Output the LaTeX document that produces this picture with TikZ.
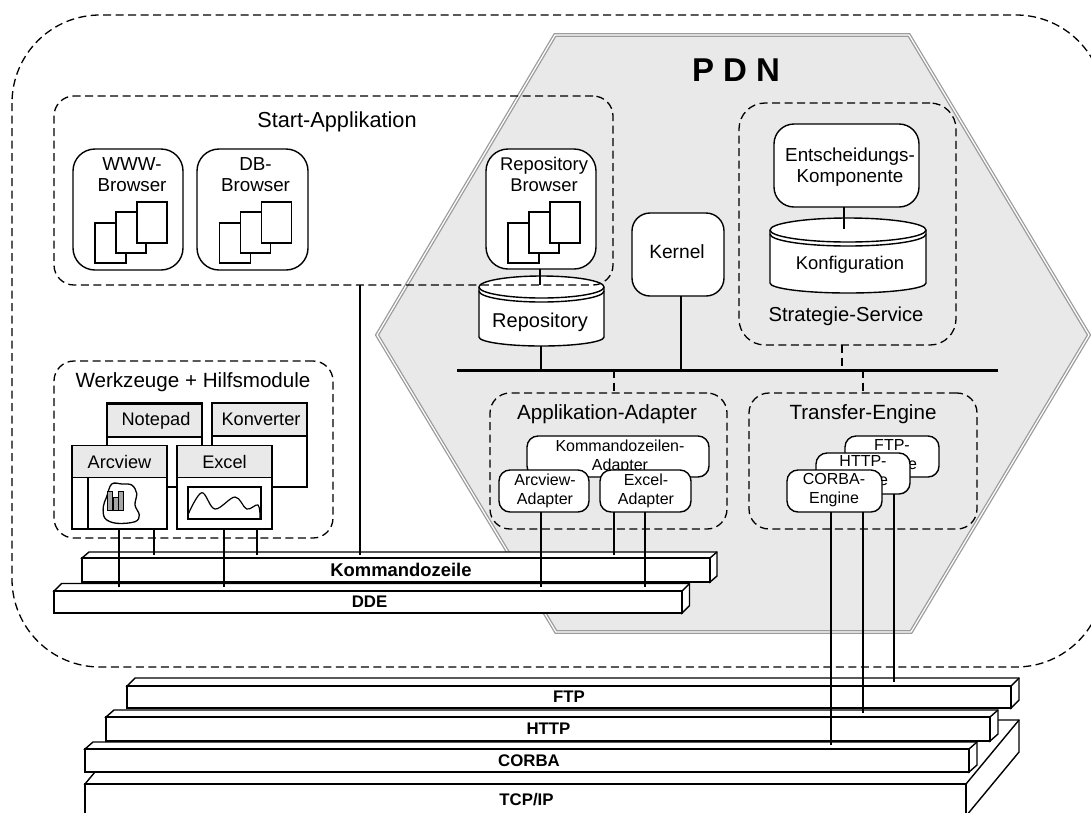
\documentclass[tikz,border=0pt]{standalone}
\usepackage{fontspec}
\setmainfont{Liberation Sans}
\newcommand{\fsz}[2]{\fontsize{#1}{#2}\selectfont}
\tikzset{
  x=1pt,y=-1pt,
  every node/.style={inner sep=0pt,outer sep=0pt},
  solidline/.style={line width=1.4pt,black},
  conn/.style={line width=1.3pt,black},
  dashbox/.style={line width=1.3pt,dash pattern=on 8pt off 4.5pt,rectangle,draw=black},
  dashconn/.style={line width=1.3pt,dash pattern=on 8pt off 4.5pt,black},
  rbox/.style={rectangle,draw=black,fill=white,line width=1.4pt,rounded corners=#1},
  rbox/.default=12pt,
  lab/.style={align=center,font=\fsz{20.6}{22}},
  mid/.style={align=center,font=\fsz{18.8}{21}},
  sm/.style={align=center,font=\fsz{16}{19}},
  win/.style={rectangle,draw=black,fill=white,line width=1.4pt},
  winhead/.style={rectangle,draw=black,fill=headgray,line width=1.4pt,font=\fsz{18.2}{20}},
  docpage/.style={rectangle,draw=black,fill=white,line width=1.3pt},
  barlabel/.style={rectangle,draw=black,fill=white,line width=1.4pt,font=\bfseries\fsz{16.8}{18}},
  hexa/.style={draw=hexgray,double=white,double distance=1.2pt,line width=1.3pt,fill=headgray,line join=miter},
}
\definecolor{headgray}{HTML}{E9E9E9}
\definecolor{hexgray}{HTML}{9C9C9C}
\newcommand{\pdnbar}[9]{% name,x1,x2,ytop,ybot,dx,dy,text,options
  \draw[solidline,fill=white,line join=miter] (#2,#4) -- ({#2+#6},{#4-#7}) -- ({#3+#6},{#4-#7}) -- ({#3+#6},{#5-#7}) -- (#3,#5) -- (#3,#4) -- cycle;
  \draw[solidline] (#3,#4) -- ({#3+#6},{#4-#7});
  \node[barlabel,#9,minimum width={(#3-#2)*1pt},minimum height={(#5-#4)*1pt}] (#1) at ({(#2+#3)/2},{(#4+#5)/2}) {#8};
}
\newcommand{\pdncyl}[7]{% xl,xr,rx,rimy,ry,botside,botry
  \draw[solidline,fill=white] (#1,#4) arc[start angle=180,end angle=0,x radius=#3pt,y radius=#5pt] -- (#2,#6) arc[start angle=360,end angle=180,x radius=#3pt,y radius=#7pt] -- cycle;
  \draw[solidline] (#1,#4) arc[start angle=180,end angle=360,x radius=#3pt,y radius=#5pt];
  \draw[solidline] (#1,{#4+4}) arc[start angle=180,end angle=360,x radius=#3pt,y radius=#5pt];
}
\newcommand{\pdndocs}[1]{%
  \begin{scope}[xshift=#1pt]
  \node[docpage,minimum width=31pt,minimum height=40pt] at (110.5,243) {};
  \node[docpage,minimum width=30pt,minimum height=41pt] at (131,232.5) {};
  \node[docpage,minimum width=30pt,minimum height=41pt] at (152,222.5) {};
  \end{scope}
}
\begin{document}
\begin{tikzpicture}
\useasboundingbox (0,0) rectangle (1091,812);
\clip (0,0) rectangle (1091,812);
% outer region
\draw[line width=1.3pt,dash pattern=on 8pt off 4.5pt,rounded corners=88pt] (12,15) rectangle (1104,667);
% PDN hexagon
\draw[hexa] (555,35) -- (909,35) -- (1089,335) -- (911,632) -- (556,632) -- (377,335) -- cycle;
\node[font=\bfseries\fsz{33}{35}] (pdn) at (736,70) {P D N};

% bus
\coordinate (busL) at (457,370);
\coordinate (busR) at (998,370);

% cylinders
\pdncyl{479}{604}{62.5}{287}{11}{337}{9}
\node[font=\fsz{20}{22}] (repository) at (540,322) {Repository};
\coordinate (repotop) at (540,285);
\coordinate (repobot) at (541,346);

\pdncyl{770}{926}{78}{230}{12}{283}{10}
\node[font=\fsz{18.4}{20}] (konfig) at (850,264.5) {Konfiguration};
\coordinate (konftop) at (844,229);

% browsers
\node[rbox=22pt,minimum width=110pt,minimum height=121pt] (www) at (128,209.5) {};
\node[mid] (wwwt) at (132,175) {WWW-\\Browser};
\pdndocs{0}
\node[rbox=22pt,minimum width=111pt,minimum height=121pt] (db) at (252.5,209.5) {};
\node[mid] (dbt) at (255.5,175) {DB-\\Browser};
\pdndocs{124.5}
\node[rbox=22pt,minimum width=110pt,minimum height=120pt] (repobrowser) at (541,209) {};
\node[font=\fsz{18.4}{21},align=center] (repot) at (544,174) {Repository\\Browser};
\pdndocs{413}

% start application
\node[dashbox,rounded corners=20pt,minimum width=559pt,minimum height=189pt] (start) at (333.5,190.5) {};
\node[align=center,font=\fsz{21.7}{23}] (startt) at (337,122) {Start-Applikation};
\draw[conn] (repobrowser.south -| repotop) -- (repotop);

% kernel
\node[rbox=18pt,minimum width=92pt,minimum height=83pt] (kernel) at (678,254.5) {};
\node[font=\fsz{19.2}{21}] (kernelt) at (677,252) {Kernel};

% strategy service
\node[dashbox,rounded corners=26pt,minimum width=217pt,minimum height=242pt] (strategy) at (847.5,224) {};
\node[rbox=20pt,minimum width=145pt,minimum height=83pt] (entsch) at (846.5,165.5) {};
\node[mid] (entscht) at (850,167) {Entscheidungs-\\Komponente};
\node[font=\fsz{20.2}{22}] (stratt) at (846,316.5) {Strategie-Service};
\draw[conn] (entsch.south -| konftop) -- (konftop);

% adapter group
\node[dashbox,rounded corners=20pt,minimum width=237pt,minimum height=136pt] (appad) at (608.5,461) {};
\node[lab] (appadt) at (607,414.5) {Applikation-Adapter};
\node[rbox=11pt,minimum width=182pt,minimum height=41pt] (kommad) at (618,456.5) {};
\node[sm] (kommadt) at (620,456.5) {Kommandozeilen-\\Adapter};
\node[rbox=11pt,minimum width=90pt,minimum height=42pt] (arcad) at (544,491) {};
\node[sm] (arcadt) at (545,490.5) {Arcview-\\Adapter};
\node[rbox=11pt,minimum width=91pt,minimum height=42pt] (excelad) at (645.5,491) {};
\node[sm] (exceladt) at (646,490.5) {Excel-\\Adapter};

% transfer engine group
\node[dashbox,rounded corners=20pt,minimum width=228pt,minimum height=136pt] (transfer) at (863,461) {};
\node[lab] (transfert) at (863,414.5) {Transfer-Engine};
\node[rbox=11pt,minimum width=94pt,minimum height=41pt] (ftpe) at (892,456.5) {};
\node[sm] (ftpet) at (892,456.5) {FTP-\\Engine};
\node[rbox=11pt,minimum width=94pt,minimum height=41pt] (httpe) at (863,473.5) {};
\node[sm] (httpet) at (863,472.5) {HTTP-\\Engine};
\node[rbox=11pt,minimum width=95pt,minimum height=42pt] (corbae) at (834.5,491) {};
\node[sm] (corbaet) at (834,490.5) {CORBA-\\Engine};

% tools group
\node[dashbox,rounded corners=20pt,minimum width=279pt,minimum height=177pt] (tools) at (193.5,449.5) {};
\node[lab] (toolst) at (193,382) {Werkzeuge + Hilfsmodule};
\node[win,minimum width=95pt,minimum height=84pt] (notepad) at (154.5,445) {};
\node[winhead,minimum width=95pt,minimum height=33pt] (notepadt) at (154.5,420.5) {\hspace*{3pt}Notepad};
\node[win,minimum width=95pt,minimum height=84pt] (konverter) at (259.5,445) {};
\node[winhead,minimum width=95pt,minimum height=33pt] (konvertert) at (259.5,419.5) {\hspace*{3pt}Konverter};
\node[win,minimum width=95pt,minimum height=83pt] (arcview) at (119.5,487.5) {};
\node[winhead,minimum width=95pt,minimum height=32pt] (arcviewt) at (119.5,461.5) {Arcview};
\draw[solidline] (88,478) -- (88,529);
\node[win,minimum width=95pt,minimum height=83pt] (excel) at (224.5,487.5) {};
\node[winhead,minimum width=95pt,minimum height=32pt] (excelt) at (224.5,461.5) {Excel};
% map icon
\draw[line width=1.3pt,fill=white] plot[smooth cycle,tension=.6] coordinates {(111.7,484) (122,484) (131.7,485) (136.7,493.3) (135,505) (139.3,515) (135,521.7) (116.7,523.3) (105,518.3) (103.3,506.7) (106.7,496.7)};
\draw[line width=1pt,fill=black!35] (107,491) rectangle (112,510);
\draw[line width=1pt,fill=black!35] (113,497) rectangle (118,510);
\draw[line width=1pt,fill=black!35] (118,491) rectangle (123,510);
% chart icon
\draw[line width=1.4pt,fill=white] (188,487) rectangle (261,519);
\draw[line width=1.2pt] plot[smooth,tension=.6] coordinates {(188.3,514) (201.7,492.7) (215,509) (235,497) (246.7,509) (258,505) (260,518)};

% protocol slabs
\pdnbar{tcp}{85}{966}{784}{816}{53}{64}{\hspace*{2pt}TCP/IP}{}
\pdnbar{corba}{85}{969}{749}{772}{8}{7}{\hspace*{4pt}CORBA}{}
\pdnbar{http}{106}{990}{717}{741}{8}{7}{\hspace*{1pt}HTTP}{}
\pdnbar{ftp}{127}{1011}{686}{708}{8}{8}{FTP}{}
\pdnbar{dde}{54}{682}{591}{613}{7.5}{7.5}{\hspace*{3pt}DDE}{}
\pdnbar{komm}{82}{710}{558}{582}{7}{6}{\hspace*{10pt}Kommandozeile}{font=\bfseries\fsz{18.4}{20}}

% free ends of connectors on slabs
\coordinate (kommtop) at (0,555);
\coordinate (ddetop) at (0,587);
\coordinate (ftptop) at (0,682);
\coordinate (httptop) at (0,713);
\coordinate (corbatop) at (0,745);

% connectors
\draw[conn] (119,0 |- arcview.south) -- (119,0 |- ddetop);
\draw[conn] (154,0 |- arcview.south) -- (154,0 |- kommtop);
\draw[conn] (224,0 |- excel.south) -- (224,0 |- ddetop);
\draw[conn] (257,0 |- excel.south) -- (257,0 |- kommtop);
\draw[conn] (360,0 |- start.south) -- (360,0 |- kommtop);
\draw[conn] (541,0 |- arcad.south) -- (541,0 |- ddetop);
\draw[conn] (614,0 |- excelad.south) -- (614,0 |- kommtop);
\draw[conn] (645,0 |- excelad.south) -- (645,0 |- ddetop);
\draw[conn] (831,0 |- corbae.south) -- (831,0 |- corbatop);
\draw[conn] (863,0 |- corbae.south) -- (863,0 |- httptop);
\draw[conn] (894,0 |- httpe.south) -- (894,0 |- ftptop);
\draw[conn] (repobot) -- (repobot |- busL);
\draw[conn] (681,0 |- kernel.south) -- (681,0 |- busL);
\draw[dashconn] (842,0 |- strategy.south) -- (842,0 |- busL);
\draw[dashconn] (614,0 |- busL) -- (614,0 |- appad.north);
\draw[dashconn] (863,0 |- busL) -- (863,0 |- transfer.north);
\draw[line width=3pt,black] (busL) -- (busR);
\end{tikzpicture}
\end{document}
